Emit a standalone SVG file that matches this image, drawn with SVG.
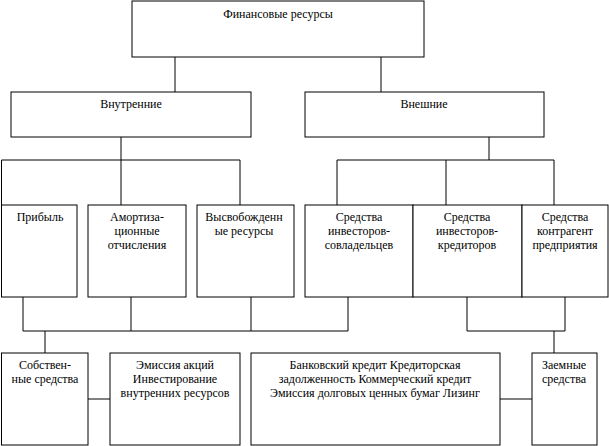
<svg xmlns="http://www.w3.org/2000/svg" width="609" height="446" viewBox="0 0 609 446">
<style>
rect{fill:#fff;stroke:#000;stroke-width:1}
.c line,.c polyline{stroke:#000;stroke-width:1;fill:none}
text{font-family:"Liberation Serif",serif;font-size:12px;fill:#000;text-anchor:middle}
</style>
<rect x="0" y="0" width="609" height="446" style="stroke:none"/>
<g class="c">
<line x1="175" y1="57" x2="175" y2="92"/>
<line x1="381" y1="57" x2="381" y2="92"/>
<line x1="121" y1="137" x2="121" y2="205"/>
<polyline points="1.5,205 1.5,160 240,160 240,205"/>
<line x1="489" y1="137" x2="489" y2="160"/>
<polyline points="337,205 337,160 554,160 554,205"/>
<line x1="446" y1="160" x2="446" y2="205"/>
<polyline points="23,297 23,331 348,331 348,297"/>
<line x1="131" y1="297" x2="131" y2="331"/>
<line x1="251" y1="297" x2="251" y2="331"/>
<line x1="45" y1="331" x2="45" y2="353"/>
<polyline points="467,297 467,331 565,331 565,297"/>
<line x1="554" y1="331" x2="554" y2="353"/>
<line x1="88" y1="399" x2="110" y2="399"/>
<line x1="500" y1="399" x2="532" y2="399"/>
</g>
<g id="fin"><rect x="132" y="1" width="292" height="56"/><text x="278" y="18">Финансовые ресурсы</text></g>
<g id="vnutr"><rect x="11" y="92" width="240" height="45"/><text x="131" y="108">Внутренние</text></g>
<g id="vnesh"><rect x="305" y="92" width="239" height="45"/><text x="424" y="108">Внешние</text></g>
<g id="prib"><rect x="1.5" y="205" width="75.5" height="92"/><text x="40" y="221">Прибыль</text></g>
<g id="amort"><rect x="88" y="205" width="98" height="92"/><text x="137" y="221">Амортиза-</text><text x="137" y="235">ционные</text><text x="137" y="249">отчисления</text></g>
<g id="vysv"><rect x="197" y="205" width="97" height="92"/><text x="244" y="221">Высвобожденн</text><text x="244" y="235">ые ресурсы</text></g>
<g id="sovl"><rect x="305" y="205" width="108" height="92"/><text x="359" y="221">Средства</text><text x="359" y="235">инвесторов-</text><text x="359" y="249">совладельцев</text></g>
<g id="kred"><rect x="413" y="205" width="109" height="92"/><text x="467" y="221">Средства</text><text x="467" y="235">инвесторов-</text><text x="467" y="249">кредиторов</text></g>
<g id="kontr"><rect x="522" y="205" width="86" height="92"/><text x="565" y="221">Средства</text><text x="565" y="235">контрагент</text><text x="565" y="249">предприятия</text></g>
<g id="sobst"><rect x="1.5" y="353" width="86.5" height="92"/><text x="45" y="369">Собствен-</text><text x="45" y="383">ные средства</text></g>
<g id="emis"><rect x="110" y="353" width="130" height="92"/><text x="175" y="369">Эмиссия акций</text><text x="175" y="383">Инвестирование</text><text x="175" y="397">внутренних ресурсов</text></g>
<g id="bank"><rect x="251" y="353" width="249" height="92"/><text x="375" y="369">Банковский кредит Кредиторская</text><text x="375" y="383">задолженность Коммерческий кредит</text><text x="375" y="397">Эмиссия долговых ценных бумаг Лизинг</text></g>
<g id="zaem"><rect x="532" y="353" width="65" height="92"/><text x="564" y="369">Заемные</text><text x="564" y="383">средства</text></g>
</svg>
